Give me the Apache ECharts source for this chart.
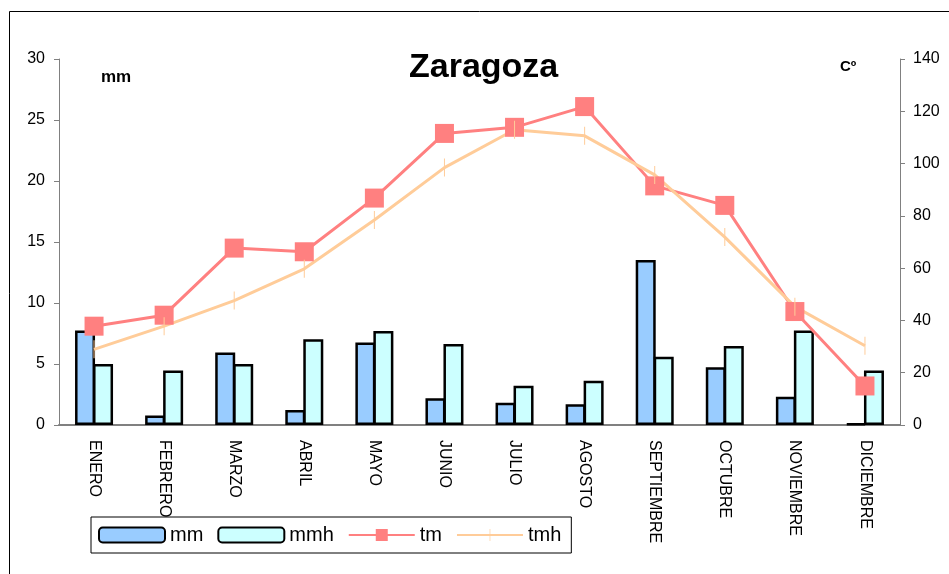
<!DOCTYPE html>
<html>
<head>
<meta charset="utf-8">
<title>Zaragoza</title>
<script src="https://cdn.jsdelivr.net/npm/echarts@6/dist/echarts.min.js"></script>
<style>
  html, body { margin: 0; padding: 0; background: #fff; }
  #chart { width: 949px; height: 574px; }
</style>
</head>
<body>
<div id="chart"></div>
<script>
// meses del año
const meses = ['ENERO', 'FEBRERO', 'MARZO', 'ABRIL', 'MAYO', 'JUNIO', 'JULIO',
  'AGOSTO', 'SEPTIEMBRE', 'OCTUBRE', 'NOVIEMBRE', 'DICIEMBRE']
// precipitación (eje derecho)
const mm = [36.1, 3.6, 27.7, 5.7, 31.6, 10.2, 8.5, 7.9, 63.1, 22.1, 10.8, 0.6]
const mmh = [23.3, 20.8, 23.3, 32.8, 36.0, 31.0, 15.0, 16.9, 26.1, 30.2, 36.1, 20.8]
// temperatura (eje izquierdo)
const tm = [8.1, 9.0, 14.5, 14.2, 18.6, 23.9, 24.4, 26.1, 19.6, 18.0, 9.3, 3.2]
const tmh = [6.2, 8.1, 10.2, 12.8, 16.8, 21.1, 24.2, 23.7, 20.5, 15.4, 9.7, 6.5]

const font = 'Liberation Sans, Arial, sans-serif'
// marca vertical fina (los M de los lados solo ensanchan la caja)
const rayita = 'path://M-9,0 M9,0 M-0.5,0 h1 v18 h-1 Z'

const chart = echarts.init(document.getElementById('chart'), null, { renderer: 'canvas' })

const option = {
  animation: false,
  textStyle: { fontFamily: font, color: '#000' },
  title: {
    text: 'Zaragoza',
    left: 409,
    top: 51,
    padding: 0,
    textStyle: { fontFamily: font, fontSize: 34, fontWeight: 'bold', color: '#000' }
  },
  graphic: [
    // marco exterior
    {
      type: 'rect', z: -1,
      shape: { x: 9.5, y: 11.5, width: 980, height: 620 },
      style: { fill: 'none', stroke: '#000', lineWidth: 1 }
    },
    {
      type: 'text', left: 101, top: 69,
      style: { text: 'mm', font: 'bold 17px ' + font, fill: '#000' }
    },
    {
      type: 'text', left: 840, top: 59,
      style: { text: 'Cº', font: 'bold 15px ' + font, fill: '#000' }
    }
  ],
  legend: {
    left: 91,
    top: 517,
    padding: [8, 10, 8, 7],
    itemWidth: 66,
    itemHeight: 15,
    itemGap: 14,
    backgroundColor: '#fff',
    borderColor: '#000',
    borderWidth: 1,
    borderRadius: 0,
    textStyle: { fontFamily: font, fontSize: 20, color: '#000' },
    data: ['mm', 'mmh', 'tm', 'tmh']
  },
  grid: { left: 59, right: 49, top: 59, bottom: 149, containLabel: false },
  xAxis: {
    type: 'category',
    data: meses,
    axisLine: { lineStyle: { color: '#808080', width: 2 } },
    axisTick: { length: 5, lineStyle: { color: '#808080', width: 1 } },
    axisLabel: { rotate: -90, margin: 15, fontSize: 16, color: '#000', interval: 0 }
  },
  yAxis: [
    {
      type: 'value', min: 0, max: 30, interval: 5,
      splitLine: { show: false },
      axisLine: { show: true, lineStyle: { color: '#808080', width: 1 } },
      axisTick: { show: true, length: 5, lineStyle: { color: '#808080' } },
      axisLabel: { margin: 14, fontSize: 16, color: '#000' }
    },
    {
      type: 'value', min: 0, max: 140, interval: 20,
      splitLine: { show: false },
      axisLine: { show: true, lineStyle: { color: '#808080', width: 1 } },
      axisTick: { show: true, length: 5, lineStyle: { color: '#808080' } },
      axisLabel: { margin: 13, fontSize: 16, color: '#000' }
    }
  ],
  series: [
    {
      name: 'mm', type: 'bar', yAxisIndex: 1, data: mm,
      barWidth: 20, barGap: '-10%',
      itemStyle: { color: '#99CCFF', borderColor: '#000', borderWidth: 2.5 }
    },
    {
      name: 'mmh', type: 'bar', yAxisIndex: 1, data: mmh,
      barWidth: 20, barGap: '-10%',
      itemStyle: { color: '#CCFFFF', borderColor: '#000', borderWidth: 2.5 }
    },
    {
      name: 'tm', type: 'line', yAxisIndex: 0, data: tm,
      symbol: 'rect', symbolSize: 19,
      lineStyle: { color: '#FF8080', width: 3 },
      itemStyle: { color: '#FF8080' }
    },
    {
      name: 'tmh', type: 'line', yAxisIndex: 0, data: tmh,
      symbol: rayita, symbolSize: 18,
      lineStyle: { color: '#FFCC99', width: 3 },
      itemStyle: { color: '#FFCC99' }
    }
  ]
}

chart.setOption(option)
</script>
</body>
</html>
